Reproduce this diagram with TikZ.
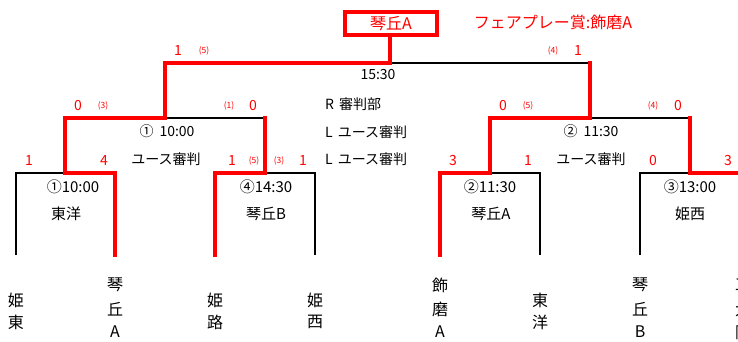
\documentclass[tikz,border=0pt]{standalone}
\usepackage{fontspec}
\setmainfont{Noto Sans CJK JP}
\begin{document}
\begin{tikzpicture}[x=1pt,y=-1pt,
  blk/.style={draw=black,line width=2pt,line join=miter},
  rd/.style={draw=red,line width=4pt,line join=miter,line cap=rect},
  lbl/.style={inner sep=0pt,font=\fontsize{14}{16}\selectfont},
  blbl/.style={inner sep=0pt,font=\fontsize{15}{18}\selectfont},
  score/.style={inner sep=0pt,text=red,font=\fontsize{14}{16}\selectfont},
  pk/.style={inner sep=0pt,text=red,font=\fontsize{8.5}{10}\selectfont},
  tname/.style={inner sep=0pt,font=\fontsize{16}{18}\selectfont},
  champ/.style={inner sep=0pt,text=red,font=\fontsize{16}{18}\selectfont}]
\useasboundingbox (0,0) rectangle (738,342);
\clip (0,0) rectangle (738,342);
% black lines
\draw[blk] (16,255) -- (16,173) -- (65,173);
\draw[blk] (165,118) -- (265,118);
\draw[blk] (265,173) -- (315,173) -- (315,255);
\draw[blk] (390,63) -- (590,63);
\draw[blk] (490,173) -- (540,173) -- (540,255);
\draw[blk] (590,118) -- (690,118);
\draw[blk] (640,255) -- (640,173) -- (690,173);
% red lines
\draw[rd] (115,255) -- (115,173) -- (65,173) -- (65,118) -- (165,118) -- (165,63) -- (390,63) -- (390,35);
\draw[rd] (265,118) -- (265,173) -- (215,173) -- (215,255);
\draw[rd] (440,255) -- (440,173) -- (490,173) -- (490,118) -- (590,118) -- (590,63);
\draw[rd] (690,118) -- (690,173) -- (745,173) -- (745,255);
% champion
\node[champ,draw=red,line width=4pt,minimum width=92pt,minimum height=23pt] (champ) at (391,23.5) {琴丘A};
\node[champ] (fair) at (553,22) {フェアプレー賞:飾磨A};
% centre labels
\node[lbl] (t1530) at (378,75) {15:30};
\node[lbl,anchor=west] (ref1) at (325,104) {R\hspace{5pt}審判部};
\node[lbl,anchor=west] (ref2) at (325,132) {L\hspace{5pt}ユース審判};
\node[lbl,anchor=west] (ref3) at (325,159) {L\hspace{5pt}ユース審判};
% round 2 labels
\node[lbl] (m1) at (167,131) {①\hspace{6pt}10:00};
\node[lbl] (m1r) at (166,159) {ユース審判};
\node[lbl] (m2) at (591,131) {②\hspace{6pt}11:30};
\node[lbl] (m2r) at (591,159) {ユース審判};
% box labels
\node[blbl] (b1t) at (73,187) {①10:00};
\node[blbl] (b1n) at (66,214) {東洋};
\node[blbl] (b4t) at (266,187) {④14:30};
\node[blbl] (b4n) at (266,214) {琴丘B};
\node[blbl] (b2t) at (490,187) {②11:30};
\node[blbl] (b2n) at (491,214) {琴丘A};
\node[blbl] (b3t) at (690,187) {③13:00};
\node[blbl] (b3n) at (690,214) {姫西};
% scores final
\node[score] (sf1) at (178,51) {1};
\node[pk] (pf1) at (204,51) {(5)};
\node[pk] (pf2) at (553,51) {(4)};
\node[score] (sf2) at (578,51) {1};
% round 2 scores
\node[score] (s21) at (78,106) {0};
\node[pk] (p21) at (103,106) {(3)};
\node[pk] (p22) at (229,106) {(1)};
\node[score] (s22) at (253,106) {0};
\node[score] (s23) at (503,106) {0};
\node[pk] (p23) at (528,106) {(5)};
\node[pk] (p24) at (653,106) {(4)};
\node[score] (s24) at (678,106) {0};
% round 1 scores
\node[score] (s11) at (29,161) {1};
\node[score] (s12) at (104,161) {4};
\node[score] (s13) at (232,161) {1};
\node[pk] (p13) at (254,161) {(5)};
\node[pk] (p14) at (279,161) {(3)};
\node[score] (s14) at (303,161) {1};
\node[score] (s15) at (453,161) {3};
\node[score] (s16) at (528,161) {1};
\node[score] (s17) at (653,161) {0};
\node[score] (s18) at (728,161) {3};
% team names
\node[tname] (a1) at (16,300) {姫};
\node[tname] (a2) at (16,322) {東};
\node[tname] (b1) at (115,285) {琴};
\node[tname] (b2) at (115,309) {丘};
\node[tname] (b3) at (115,332) {A};
\node[tname] (c1) at (215,300) {姫};
\node[tname] (c2) at (215,322) {路};
\node[tname] (d1) at (315,300) {姫};
\node[tname] (d2) at (315,322) {西};
\node[tname] (e1) at (440,285) {飾};
\node[tname] (e2) at (440,309) {磨};
\node[tname] (e3) at (440,332) {A};
\node[tname] (f1) at (540,300) {東};
\node[tname] (f2) at (540,322) {洋};
\node[tname] (g1) at (640,285) {琴};
\node[tname] (g2) at (640,309) {丘};
\node[tname] (g3) at (640,332) {B};
\node[tname] (h1) at (743,285) {工};
\node[tname] (h2) at (743,309) {大};
\node[tname] (h3) at (743,332) {附};
\end{tikzpicture}
\end{document}
